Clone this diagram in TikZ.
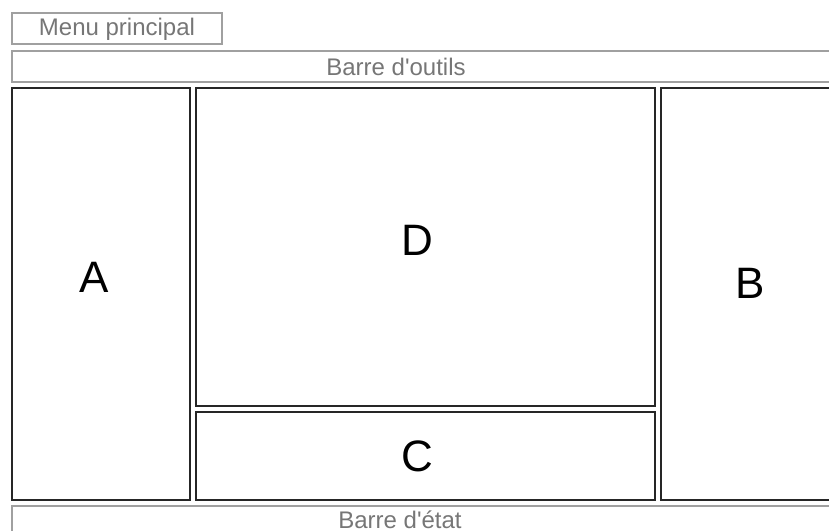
\documentclass[tikz,border=0pt]{standalone}
\usepackage{fontspec}
\setmainfont{Liberation Sans}
\usepackage{tikz}
\usetikzlibrary{positioning}
\usepackage{xcolor}
\definecolor{bargray}{HTML}{A0A0A0}
\definecolor{bartext}{HTML}{767676}
\definecolor{panelline}{HTML}{262626}

\begin{document}
\begin{tikzpicture}[
  x=0.5pt, y=-0.5pt,
  bar/.style={draw=bargray, line width=1pt},
  panel/.style={draw=panelline, line width=1pt},
  bartxt/.style={text=bartext, font=\fontsize{12}{14}\selectfont, inner sep=0pt},
  paneltxt/.style={text=black, font=\fontsize{22}{26}\selectfont, inner sep=0pt}
]
\useasboundingbox (0,0) rectangle (829,530);
\clip (0,0) rectangle (829,530);

% menu and bars
\draw[bar] (12,13) rectangle (222,44);
\node[bartxt] (menu) at (117,29) {Menu principal};
\draw[bar] (840,51) -- (12,51) -- (12,82) -- (840,82);
\node[bartxt] (outils) at (396,67) {Barre d\textquotesingle outils};
\draw[bar] (840,506) -- (12,506) -- (12,545);
\node[bartxt, anchor=base] (etat) at (400,528) {Barre d\textquotesingle état};

% panels
\draw[panel] (12,88) rectangle (190,500);
\draw[panel] (196,88) rectangle (655,406);
\draw[panel] (196,412) rectangle (655,500);
\draw[panel] (840,88) -- (661,88) -- (661,500) -- (840,500);

\node[paneltxt] (A) at (94,277) {A};
\node[paneltxt] (D) at (417,240) {D};
\node[paneltxt] (C) at (417,456) {C};
\node[paneltxt] (B) at (750,283) {B};
\end{tikzpicture}
\end{document}
